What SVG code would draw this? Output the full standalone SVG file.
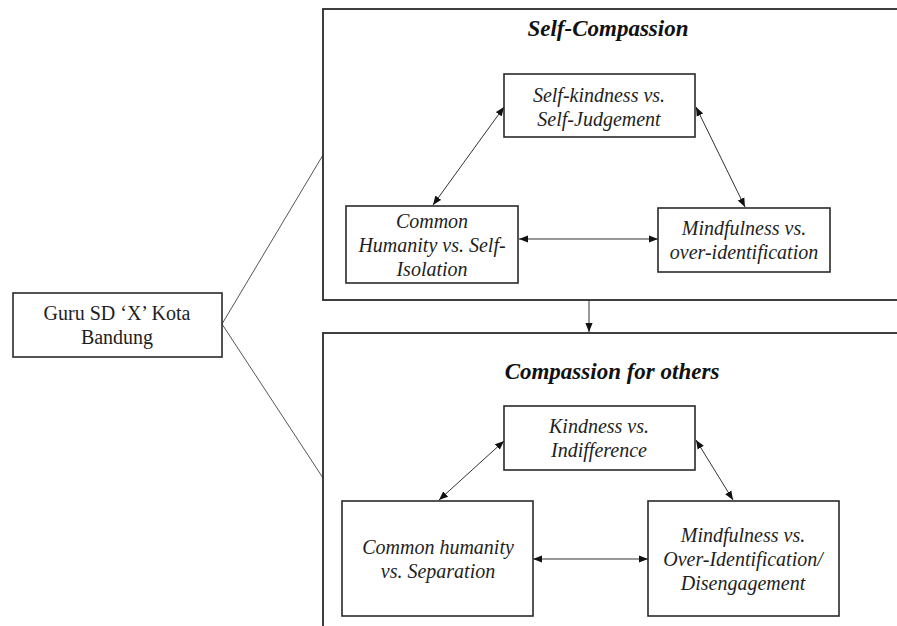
<svg xmlns="http://www.w3.org/2000/svg" width="897" height="626" viewBox="0 0 897 626">
<defs>
<marker id="ah" viewBox="0 0 10 8" refX="10" refY="4" markerWidth="9" markerHeight="7.5" markerUnits="userSpaceOnUse" orient="auto-start-reverse">
<path d="M0,0 L10,4 L0,8 z" fill="#111"/>
</marker>
</defs>
<rect width="897" height="626" fill="#fff"/>
<g id="connectors" fill="none" stroke="#333" stroke-width="1">
<line x1="222" y1="324" x2="323" y2="155" stroke="#555"/>
<line x1="222" y1="324" x2="323" y2="478" stroke="#555"/>
<line x1="589" y1="300" x2="589" y2="332" marker-end="url(#ah)"/>
<g marker-start="url(#ah)" marker-end="url(#ah)">
<line x1="504" y1="107" x2="433" y2="205"/>
<line x1="696" y1="107" x2="745" y2="207"/>
<line x1="519" y1="239" x2="658" y2="239"/>
<line x1="504" y1="441" x2="439" y2="500"/>
<line x1="696" y1="440" x2="733" y2="500"/>
<line x1="533" y1="559" x2="648" y2="559"/>
</g>
</g>
<g id="self-compassion">
<rect x="323" y="9" width="590" height="291" fill="none" stroke="#2a2a2a" stroke-width="1.8"/>
<text transform="translate(608,36) scale(0.5)" font-family="Liberation Serif" font-size="46" font-style="italic" font-weight="bold" fill="#111" text-anchor="middle">Self-Compassion</text>
</g>
<g id="compassion-for-others">
<rect x="323" y="333" width="590" height="310" fill="none" stroke="#2a2a2a" stroke-width="1.8"/>
<text transform="translate(612,379) scale(0.5)" font-family="Liberation Serif" font-size="46" font-style="italic" font-weight="bold" fill="#111" text-anchor="middle">Compassion for others</text>
</g>
<g id="guru">
<rect x="13" y="293" width="209" height="64" fill="#fff" stroke="#2a2a2a" stroke-width="1.6"/>
<text transform="translate(117,320) scale(0.5)" font-family="Liberation Serif" font-size="40" fill="#1e1e1e" text-anchor="middle">Guru SD ‘X’ Kota</text>
<text transform="translate(117,344) scale(0.5)" font-family="Liberation Serif" font-size="40" fill="#1e1e1e" text-anchor="middle">Bandung</text>
</g>
<g id="self-kindness">
<rect x="504" y="74" width="191" height="63" fill="#fff" stroke="#2a2a2a" stroke-width="1.6"/>
<text transform="translate(599,102) scale(0.5)" font-family="Liberation Serif" font-size="40" font-style="italic" fill="#1e1e1e" text-anchor="middle">Self-kindness vs.</text>
<text transform="translate(599,126) scale(0.5)" font-family="Liberation Serif" font-size="40" font-style="italic" fill="#1e1e1e" text-anchor="middle">Self-Judgement</text>
</g>
<g id="common-humanity-self">
<rect x="346" y="206" width="172" height="77" fill="#fff" stroke="#2a2a2a" stroke-width="1.6"/>
<text transform="translate(432,228) scale(0.5)" font-family="Liberation Serif" font-size="40" font-style="italic" fill="#1e1e1e" text-anchor="middle">Common</text>
<text transform="translate(432,252) scale(0.5)" font-family="Liberation Serif" font-size="40" font-style="italic" fill="#1e1e1e" text-anchor="middle">Humanity vs. Self-</text>
<text transform="translate(432,276) scale(0.5)" font-family="Liberation Serif" font-size="40" font-style="italic" fill="#1e1e1e" text-anchor="middle">Isolation</text>
</g>
<g id="mindfulness-self">
<rect x="658" y="208" width="172" height="64" fill="#fff" stroke="#2a2a2a" stroke-width="1.6"/>
<text transform="translate(744,235) scale(0.5)" font-family="Liberation Serif" font-size="40" font-style="italic" fill="#1e1e1e" text-anchor="middle">Mindfulness vs.</text>
<text transform="translate(744,259) scale(0.5)" font-family="Liberation Serif" font-size="40" font-style="italic" fill="#1e1e1e" text-anchor="middle">over-identification</text>
</g>
<g id="kindness">
<rect x="504" y="406" width="191" height="64" fill="#fff" stroke="#2a2a2a" stroke-width="1.6"/>
<text transform="translate(599,433) scale(0.5)" font-family="Liberation Serif" font-size="40" font-style="italic" fill="#1e1e1e" text-anchor="middle">Kindness vs.</text>
<text transform="translate(599,457) scale(0.5)" font-family="Liberation Serif" font-size="40" font-style="italic" fill="#1e1e1e" text-anchor="middle">Indifference</text>
</g>
<g id="common-humanity-others">
<rect x="342" y="501" width="191" height="115" fill="#fff" stroke="#2a2a2a" stroke-width="1.6"/>
<text transform="translate(438,554) scale(0.5)" font-family="Liberation Serif" font-size="40" font-style="italic" fill="#1e1e1e" text-anchor="middle">Common humanity</text>
<text transform="translate(438,578) scale(0.5)" font-family="Liberation Serif" font-size="40" font-style="italic" fill="#1e1e1e" text-anchor="middle">vs. Separation</text>
</g>
<g id="mindfulness-others">
<rect x="648" y="501" width="191" height="115" fill="#fff" stroke="#2a2a2a" stroke-width="1.6"/>
<text transform="translate(743,542) scale(0.5)" font-family="Liberation Serif" font-size="40" font-style="italic" fill="#1e1e1e" text-anchor="middle">Mindfulness vs.</text>
<text transform="translate(743,566) scale(0.5)" font-family="Liberation Serif" font-size="40" font-style="italic" fill="#1e1e1e" text-anchor="middle">Over-Identification/</text>
<text transform="translate(743,590) scale(0.5)" font-family="Liberation Serif" font-size="40" font-style="italic" fill="#1e1e1e" text-anchor="middle">Disengagement</text>
</g>
</svg>
